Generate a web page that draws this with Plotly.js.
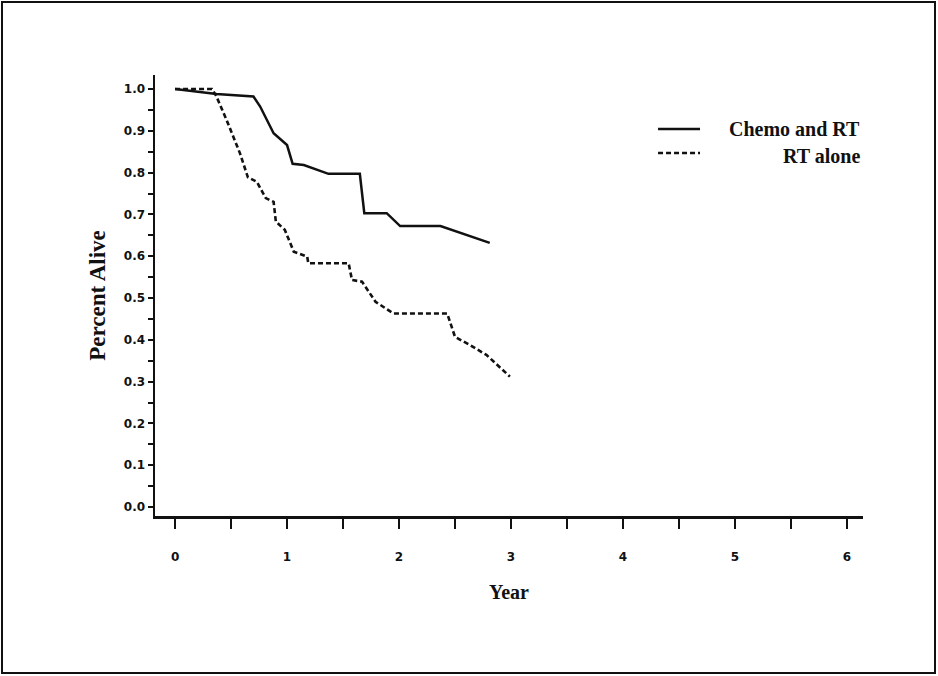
<!DOCTYPE html>
<html>
<head>
<meta charset="utf-8">
<script src="https://cdn.plot.ly/plotly-3.0.1.min.js"></script>
<style>
  html, body { margin: 0; padding: 0; background: #fff; }
  #chart { width: 938px; height: 676px; }
</style>
</head>
<body>
<div id="chart"></div>
<script>
// ---- Data ----
const seriesNames = ["Chemo and RT", "RT alone"];

const chemoYears = [0, 0.37, 0.70, 0.76, 0.88, 1.00, 1.05, 1.15, 1.37, 1.65, 1.69, 1.89, 2.01, 2.37, 2.81];
const chemoAlive = [1.0, 0.988, 0.982, 0.958, 0.894, 0.866, 0.821, 0.818, 0.797, 0.797, 0.703, 0.703, 0.672, 0.672, 0.632];

const rtYears = [0, 0.33, 0.37, 0.46, 0.58, 0.65, 0.73, 0.81, 0.88, 0.90, 0.98, 1.06, 1.18, 1.19, 1.55, 1.58, 1.67, 1.79, 1.95, 2.43, 2.50, 2.63, 2.78, 2.99];
const rtAlive = [1.0, 1.0, 0.982, 0.926, 0.846, 0.789, 0.778, 0.739, 0.730, 0.683, 0.663, 0.611, 0.599, 0.583, 0.583, 0.543, 0.539, 0.491, 0.463, 0.463, 0.407, 0.388, 0.364, 0.312];

const xTickVals = [0, 0.5, 1, 1.5, 2, 2.5, 3, 3.5, 4, 4.5, 5, 5.5, 6];
const xTickText = ["0", "", "1", "", "2", "", "3", "", "4", "", "5", "", "6"];
const yTickVals = [0, 0.05, 0.1, 0.15, 0.2, 0.25, 0.3, 0.35, 0.4, 0.45, 0.5, 0.55, 0.6, 0.65, 0.7, 0.75, 0.8, 0.85, 0.9, 0.95, 1.0];
const yTickText = ["0.0", "", "0.1", "", "0.2", "", "0.3", "", "0.4", "", "0.5", "", "0.6", "", "0.7", "", "0.8", "", "0.9", "", "1.0"];

// ---- Styling ----
const ink = "#111111";
const serif = "Liberation Serif, DejaVu Serif, serif";
const sans = "DejaVu Sans, Liberation Sans, sans-serif";

const traces = [
  {
    x: chemoYears, y: chemoAlive, name: seriesNames[0],
    type: "scatter", mode: "lines",
    line: { color: ink, width: 2.5, dash: "solid" },
    showlegend: false, cliponaxis: false
  },
  {
    x: rtYears, y: rtAlive, name: seriesNames[1],
    type: "scatter", mode: "lines",
    line: { color: ink, width: 2.6, dash: "5px,3px" },
    showlegend: false, cliponaxis: false
  }
];

const legendLineX0 = 0.7105, legendLineX1 = 0.7698;
const legendRowY = [0.8776, 0.8231];
const legendTextY = [0.8776, 0.8163];

const layout = {
  width: 938, height: 676,
  margin: { l: 155, r: 75, t: 75, b: 160, pad: 0 },
  paper_bgcolor: "#ffffff",
  plot_bgcolor: "#ffffff",
  showlegend: false,
  xaxis: {
    range: [-0.179, 6.143],
    showgrid: false, zeroline: false,
    showline: true, linecolor: ink, linewidth: 2.5,
    ticks: "outside", ticklen: 10, tickwidth: 2, tickcolor: ink,
    tickmode: "array", tickvals: xTickVals, ticktext: xTickText,
    ticklabelstandoff: 18,
    tickfont: { family: sans, size: 12, color: ink, weight: "bold" },
    title: { text: "Year", standoff: 22, font: { family: serif, size: 20, color: ink, weight: "bold" } }
  },
  yaxis: {
    range: [-0.0215, 1.0335],
    showgrid: false, zeroline: false,
    showline: true, linecolor: ink, linewidth: 2.5,
    ticks: "outside", ticklen: 5, tickwidth: 2, tickcolor: ink,
    tickmode: "array", tickvals: yTickVals, ticktext: yTickText,
    tickfont: { family: sans, size: 12, color: ink, weight: "bold" },
    title: { text: "Percent Alive", standoff: 12, font: { family: serif, size: 23, color: ink, weight: "bold" } }
  },
  shapes: [
    { type: "rect", xref: "paper", yref: "paper",
      x0: -0.2161, x1: 1.1017, y0: -0.356, y1: 1.1655,
      line: { color: ink, width: 2 }, fillcolor: "rgba(0,0,0,0)" },
    { type: "line", xref: "paper", yref: "paper",
      x0: legendLineX0, x1: legendLineX1, y0: legendRowY[0], y1: legendRowY[0],
      line: { color: ink, width: 2.5, dash: "solid" } },
    { type: "line", xref: "paper", yref: "paper",
      x0: legendLineX0, x1: legendLineX1, y0: legendRowY[1], y1: legendRowY[1],
      line: { color: ink, width: 2.6, dash: "5px,3px" } }
  ],
  annotations: [
    { xref: "paper", yref: "paper", x: 0.9986, y: legendTextY[0], xanchor: "right", yanchor: "middle",
      showarrow: false, text: seriesNames[0], font: { family: serif, size: 20, color: ink, weight: "bold" } },
    { xref: "paper", yref: "paper", x: 0.9986, y: legendTextY[1], xanchor: "right", yanchor: "middle",
      showarrow: false, text: seriesNames[1], font: { family: serif, size: 20, color: ink, weight: "bold" } }
  ]
};

Plotly.newPlot("chart", traces, layout, { displayModeBar: false, staticPlot: true });
</script>
</body>
</html>
